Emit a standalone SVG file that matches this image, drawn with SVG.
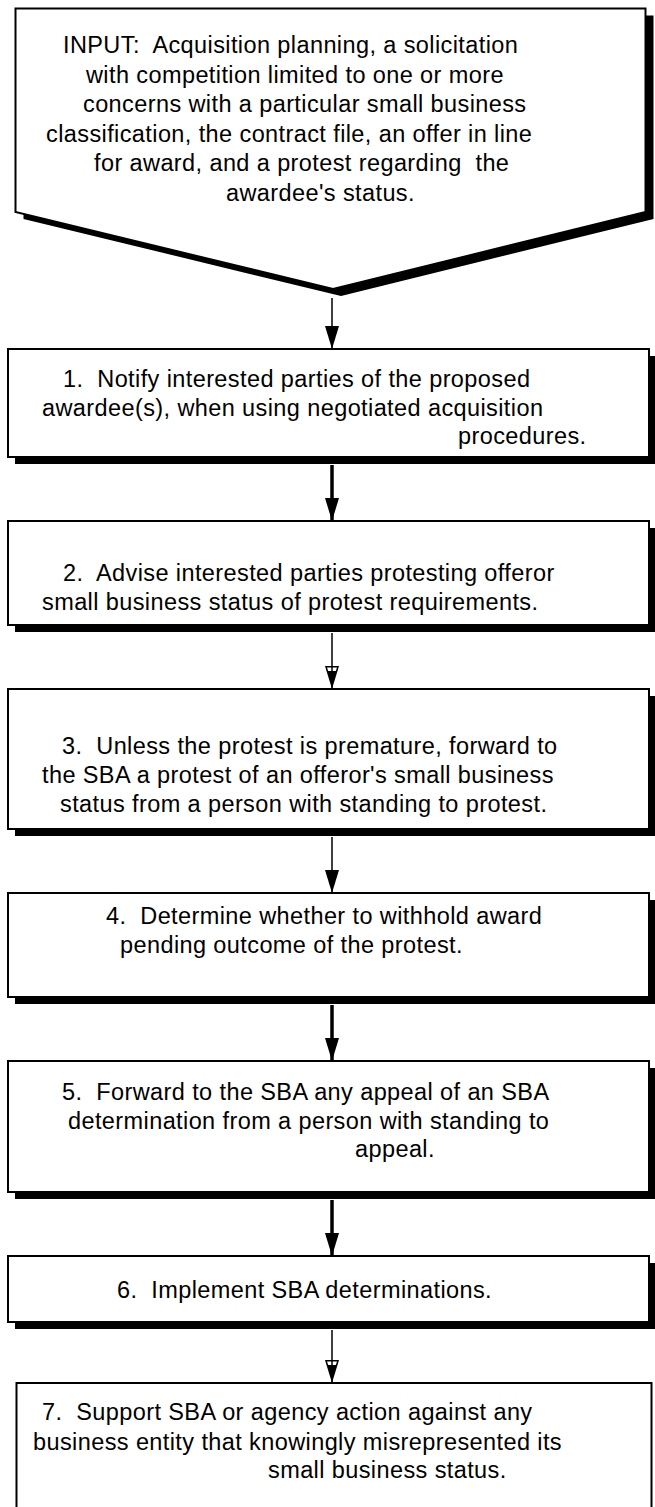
<svg xmlns="http://www.w3.org/2000/svg" width="655" height="1507" viewBox="0 0 655 1507">
<style>
.bx{fill:#fff;stroke:#000;stroke-width:2}
.sh{fill:#000;stroke:none}
.t{font-family:"Liberation Sans",Arial,sans-serif;font-size:23.5px;letter-spacing:0.4px;fill:#000;white-space:pre}
.thin{stroke:#000;stroke-width:1.5;fill:none}
.thick{stroke:#000;stroke-width:3.5;fill:none}
</style>
<defs>
<marker id="hf" markerUnits="userSpaceOnUse" viewBox="0 0 23 14" markerWidth="23" markerHeight="14" refX="23" refY="7" orient="auto">
<path d="M0,0 L23,7 L0,14 Z" fill="#000"/>
</marker>
<marker id="hh" markerUnits="userSpaceOnUse" viewBox="0 0 23 14" markerWidth="23" markerHeight="14" refX="23" refY="7" orient="auto">
<path d="M0,0 L23,7 L0,14 Z" fill="#000"/>
<path d="M1.6,2 L5,3.2 L5,10.8 L1.6,12 Z" fill="#fff"/>
<path d="M0,7 L6,7" stroke="#000" stroke-width="1.5"/>
</marker>
</defs>
<g id="input">
<polygon class="sh" points="23.5,15.5 653.5,15.5 653.5,219 341,296 23.5,219"/>
<polygon class="bx" points="15.5,8.5 645.5,8.5 645.5,212 333,289 15.5,212"/>
<text class="t" x="63" y="53" xml:space="preserve">INPUT:  Acquisition planning, a solicitation</text>
<text class="t" x="86" y="83">with competition limited to one or more</text>
<text class="t" x="83" y="112">concerns with a particular small business</text>
<text class="t" x="46" y="142">classification, the contract file, an offer in line</text>
<text class="t" x="94" y="171" xml:space="preserve">for award, and a protest regarding  the</text>
<text class="t" x="226" y="201">awardee's status.</text>
</g>
<g id="step1">
<rect class="sh" x="15" y="356" width="641" height="108"/>
<rect class="bx" x="8" y="349" width="641" height="108"/>
<text class="t" x="63" y="387" xml:space="preserve">1.  Notify interested parties of the proposed</text>
<text class="t" x="42" y="416">awardee(s), when using negotiated acquisition</text>
<text class="t" x="458" y="444">procedures.</text>
</g>
<g id="step2">
<rect class="sh" x="15" y="528" width="641" height="104"/>
<rect class="bx" x="8" y="521" width="641" height="104"/>
<text class="t" x="63" y="581" xml:space="preserve">2.  Advise interested parties protesting offeror</text>
<text class="t" x="42" y="610">small business status of protest requirements.</text>
</g>
<g id="step3">
<rect class="sh" x="15" y="696" width="641" height="140"/>
<rect class="bx" x="8" y="689" width="641" height="140"/>
<text class="t" x="62" y="754" xml:space="preserve">3.  Unless the protest is premature, forward to</text>
<text class="t" x="42" y="783">the SBA a protest of an offeror's small business</text>
<text class="t" x="60" y="812">status from a person with standing to protest.</text>
</g>
<g id="step4">
<rect class="sh" x="15" y="900" width="641" height="104"/>
<rect class="bx" x="8" y="893" width="641" height="104"/>
<text class="t" x="106" y="924" xml:space="preserve">4.  Determine whether to withhold award</text>
<text class="t" x="120" y="953">pending outcome of the protest.</text>
</g>
<g id="step5">
<rect class="sh" x="15" y="1068" width="641" height="131"/>
<rect class="bx" x="8" y="1061" width="641" height="131"/>
<text class="t" x="62" y="1100" xml:space="preserve">5.  Forward to the SBA any appeal of an SBA</text>
<text class="t" x="68" y="1129">determination from a person with standing to</text>
<text class="t" x="355" y="1157">appeal.</text>
</g>
<g id="step6">
<rect class="sh" x="15" y="1263" width="641" height="66"/>
<rect class="bx" x="8" y="1256" width="641" height="66"/>
<text class="t" x="117" y="1298" xml:space="preserve">6.  Implement SBA determinations.</text>
</g>
<g id="step7">
<rect class="bx" x="16.5" y="1383" width="635" height="140"/>
<text class="t" x="42" y="1420" xml:space="preserve">7.  Support SBA or agency action against any</text>
<text class="t" x="33" y="1450">business entity that knowingly misrepresented its</text>
<text class="t" x="268" y="1478">small business status.</text>
</g>
<g id="connectors">
<line class="thin" x1="332" y1="298" x2="332" y2="349" marker-end="url(#hf)"/>
<line class="thick" x1="332" y1="465" x2="332" y2="521" marker-end="url(#hf)"/>
<line class="thin" x1="332" y1="633" x2="332" y2="689" marker-end="url(#hh)"/>
<line class="thin" x1="332" y1="837" x2="332" y2="893" marker-end="url(#hf)"/>
<line class="thick" x1="332" y1="1005" x2="332" y2="1061" marker-end="url(#hf)"/>
<line class="thick" x1="332" y1="1200" x2="332" y2="1256" marker-end="url(#hf)"/>
<line class="thin" x1="332" y1="1330" x2="332" y2="1383" marker-end="url(#hh)"/>
</g>
</svg>
